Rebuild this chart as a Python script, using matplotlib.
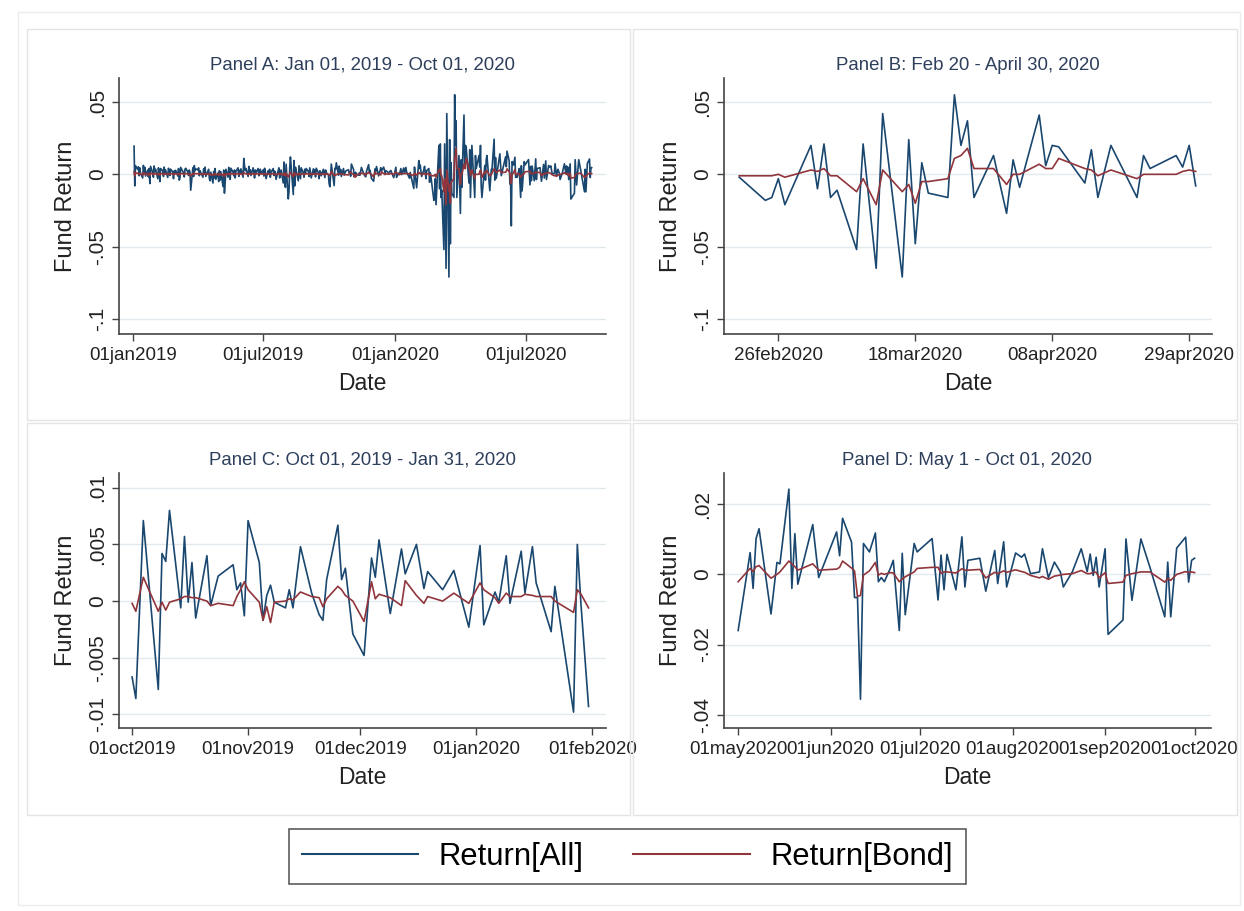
import numpy as np
import pandas as pd
import matplotlib
matplotlib.use("Agg")
import matplotlib.pyplot as plt
import matplotlib.dates as mdates
from matplotlib.patches import Rectangle
from matplotlib.lines import Line2D

plt.rcParams['font.family'] = ['Liberation Sans', 'DejaVu Sans']

W, H = 1244, 911
BLUE = "#1a476f"
RED = "#90353b"
GRID = "#e3eaee"
AXC = "#444444"

# ── data ──────────────────────────────────────────────────────────────────────

# Jan 2 - Sep 30, 2019, one value per business day (month by month)
ret_all_2019 = [
    0.0195, -0.0080, 0.0060, 0.0035, 0.0052, -0.0010, 0.0045, 0.0008, -0.0025, 0.0062, 0.0015,
    0.0048, -0.0012, 0.0030, -0.0018, 0.0040, -0.0064, 0.0055, 0.0012, -0.0020, 0.0058, 0.0020,
    0.0035, -0.0030, 0.0045, 0.0010, -0.0050, 0.0040, 0.0025, -0.0015, 0.0050, 0.0005,
    0.0030, -0.0022, 0.0042, 0.0012, -0.0008, 0.0036, 0.0015, -0.0030, 0.0025, 0.0008,
    0.0028, -0.0012, 0.0040, -0.0040, -0.0025, 0.0048, 0.0020, 0.0010, -0.0018, 0.0035, 0.0042,
    0.0015, -0.0008, 0.0030, 0.0012, -0.0110, 0.0045, -0.0015, 0.0060, 0.0025, 0.0038,
    0.0030, 0.0045, -0.0010, 0.0025, 0.0012, -0.0020, 0.0038, 0.0008, 0.0050, -0.0015, 0.0022,
    0.0035, -0.0030, -0.0045, 0.0015, -0.0060, 0.0020, -0.0025, 0.0040, -0.0035, 0.0010, -0.0050,
    0.0025, -0.0040, 0.0018, -0.0085, 0.0030, -0.0130, -0.0060, 0.0035, -0.0020, 0.0048, 0.0010,
    -0.0035, 0.0042, 0.0015, -0.0010, 0.0030, -0.0025, 0.0020, 0.0045, -0.0015, 0.0028, 0.0005, 0.0038,
    -0.0020, 0.0110, 0.0060, 0.0025, 0.0040, -0.0015, 0.0055, 0.0010, 0.0032, -0.0008,
    0.0045, 0.0018, -0.0025, 0.0030, 0.0012, 0.0040, -0.0010, 0.0022, 0.0035, 0.0005,
    0.0030, -0.0012, 0.0042, 0.0018, -0.0030, 0.0025, 0.0008, 0.0035, -0.0020, 0.0015, 0.0040,
    -0.0008, 0.0022, 0.0010, -0.0035, 0.0028, 0.0045, -0.0025, 0.0012, 0.0030, -0.0060, 0.0085, -0.0050,
    -0.0090, 0.0070, -0.0170, -0.0120, 0.0040, 0.0120, 0.0060, -0.0140, 0.0095, -0.0080, 0.0050,
    0.0025, -0.0045, 0.0060, 0.0015, -0.0030, 0.0045, 0.0010, -0.0020, 0.0035, 0.0008, 0.0040,
    0.0020, -0.0015, 0.0045, 0.0012, -0.0025, 0.0038, 0.0005, 0.0030, -0.0018, 0.0042, 0.0010,
    -0.0030, 0.0025, 0.0015, -0.0010, 0.0035, 0.0008, -0.0022, 0.0030, 0.0012, -0.0005,
]
ret_bond_2019 = [
    0.0018, -0.0012, 0.0010, 0.0006, 0.0009, 0.0001, 0.0007, 0.0002, -0.0004, 0.0010, 0.0004,
    0.0008, -0.0002, 0.0005, -0.0003, 0.0006, -0.0009, 0.0008, 0.0003, -0.0002, 0.0009, 0.0004,
    0.0006, -0.0003, 0.0007, 0.0002, -0.0006, 0.0006, 0.0004, -0.0001, 0.0007, 0.0002,
    0.0005, -0.0002, 0.0006, 0.0003, 0.0000, 0.0005, 0.0003, -0.0003, 0.0004, 0.0002,
    0.0005, 0.0000, 0.0006, -0.0004, -0.0002, 0.0007, 0.0004, 0.0002, -0.0001, 0.0005, 0.0006,
    0.0003, 0.0000, 0.0004, -0.0003, -0.0012, 0.0006, 0.0000, 0.0008, 0.0004, 0.0005,
    0.0004, 0.0006, 0.0000, 0.0004, 0.0002, -0.0002, 0.0005, 0.0002, 0.0007, -0.0001, 0.0003,
    0.0005, -0.0003, -0.0005, 0.0002, -0.0007, 0.0003, -0.0002, 0.0005, -0.0004, 0.0002, -0.0006,
    0.0004, -0.0004, 0.0003, -0.0009, 0.0004, -0.0014, -0.0006, 0.0005, -0.0002, 0.0006, 0.0002,
    -0.0003, 0.0006, 0.0003, 0.0000, 0.0004, -0.0002, 0.0003, 0.0006, -0.0001, 0.0004, 0.0001, 0.0005,
    -0.0002, 0.0012, 0.0007, 0.0004, 0.0005, -0.0001, 0.0007, 0.0002, 0.0004, 0.0000,
    0.0006, 0.0003, -0.0002, 0.0004, 0.0002, 0.0005, 0.0000, 0.0003, 0.0005, 0.0001,
    0.0004, 0.0000, 0.0005, 0.0003, -0.0003, 0.0004, 0.0001, 0.0005, -0.0002, 0.0003, 0.0005,
    0.0000, 0.0003, 0.0002, -0.0004, 0.0004, 0.0006, -0.0002, 0.0002, 0.0004, -0.0007, 0.0010, -0.0005,
    -0.0010, 0.0008, -0.0018, -0.0013, 0.0005, 0.0014, 0.0007, -0.0015, 0.0011, -0.0008, 0.0006,
    0.0003, -0.0005, 0.0007, 0.0002, -0.0003, 0.0005, 0.0001, -0.0002, 0.0004, 0.0001, 0.0005,
    0.0003, -0.0002, 0.0006, 0.0002, -0.0003, 0.0005, 0.0001, 0.0004, -0.0002, 0.0005, 0.0002,
    -0.0004, 0.0003, 0.0002, -0.0001, 0.0004, 0.0001, -0.0003, 0.0004, 0.0002, 0.0000,
]

# Oct 01, 2019 - Jan 31, 2020 (days after Oct 01, 2019)
c_days = [0, 1, 3, 7, 8, 9, 10, 13, 14, 15, 16, 17, 20, 21, 23, 27, 28, 29, 30, 31,
          34, 35, 36, 37, 38, 41, 42, 43, 45, 48, 50, 51, 52, 55, 56, 57, 59, 62, 64, 65,
          66, 69, 72, 73, 76, 78, 79, 83, 86, 90, 93, 94, 97, 98, 100, 101, 104, 105, 107, 108,
          112, 113, 118, 119, 120, 122]
c_all = [-0.0067, -0.0086, 0.0071, -0.0078, 0.0042, 0.0035, 0.0080, -0.0006, 0.0057, -0.0001,
         0.0034, -0.0015, 0.0040, -0.0004, 0.0022, 0.0032, 0.0010, 0.0016, -0.0013, 0.0071,
         0.0034, -0.0017, 0.0005, 0.0014, -0.0001, -0.0006, 0.0010, -0.0006, 0.0048, 0.0007,
         -0.0012, -0.0017, 0.0019, 0.0067, 0.0019, 0.0029, -0.0029, -0.0048, 0.0038, 0.0021,
         0.0054, -0.0011, 0.0046, 0.0024, 0.0050, 0.0011, 0.0026, 0.0010, 0.0027, -0.0023,
         0.0049, -0.0021, 0.0008, -0.0001, 0.0040, -0.0002, 0.0044, 0.0007, 0.0048, 0.0016,
         -0.0027, 0.0013, -0.0098, 0.0050, -0.0004, -0.0093]
c_bond = [-0.0002, -0.0009, 0.0021, -0.0009, -0.0001, -0.0008, -0.0001, 0.0002, 0.0004, 0.0004,
          0.0003, 0.0003, 0.0000, -0.0004, -0.0002, -0.0004, 0.0004, 0.0010, 0.0017, 0.0010,
          -0.0001, -0.0017, -0.0005, -0.0019, -0.0001, 0.0000, 0.0002, 0.0001, 0.0008, 0.0004,
          0.0003, -0.0005, 0.0002, 0.0013, 0.0010, 0.0005, 0.0000, -0.0018, 0.0017, 0.0002,
          0.0006, 0.0003, -0.0004, 0.0018, 0.0005, -0.0002, 0.0004, 0.0000, 0.0007, -0.0002,
          0.0016, 0.0010, 0.0003, -0.0002, 0.0007, 0.0004, 0.0004, 0.0006, 0.0005, 0.0004,
          0.0004, 0.0000, -0.0010, 0.0010, 0.0006, -0.0006]

# Feb 03 - Feb 19, 2020, business days
ret_all_feb20 = [0.0095, 0.0040, 0.0065, 0.0020, -0.0015, 0.0030, 0.0055, 0.0010, -0.0030,
                 0.0025, 0.0040, -0.0055, 0.0012]
ret_bond_feb20 = [0.0012, 0.0006, 0.0008, 0.0003, -0.0002, 0.0004, 0.0007, 0.0002, -0.0003,
                  0.0003, 0.0005, -0.0006, 0.0002]

# Feb 20 - Apr 30, 2020
b_dates = ["2020-02-20", "2020-02-24", "2020-02-25", "2020-02-26", "2020-02-27",
           "2020-03-02", "2020-03-03", "2020-03-04", "2020-03-05", "2020-03-06",
           "2020-03-09", "2020-03-10", "2020-03-12", "2020-03-13", "2020-03-16",
           "2020-03-17", "2020-03-18", "2020-03-19", "2020-03-20", "2020-03-23",
           "2020-03-24", "2020-03-25", "2020-03-26", "2020-03-27", "2020-03-30",
           "2020-04-01", "2020-04-02", "2020-04-03", "2020-04-06", "2020-04-07",
           "2020-04-08", "2020-04-09", "2020-04-13", "2020-04-14", "2020-04-15",
           "2020-04-17", "2020-04-21", "2020-04-22", "2020-04-23", "2020-04-27",
           "2020-04-28", "2020-04-29", "2020-04-30"]
b_all = [-0.002, -0.018, -0.016, -0.003, -0.021, 0.020, -0.010, 0.021, -0.016, -0.011,
         -0.052, 0.021, -0.065, 0.042, -0.071, 0.024, -0.048, 0.008, -0.013, -0.016,
         0.055, 0.020, 0.037, -0.016, 0.013, -0.027, 0.010, -0.009, 0.041, 0.006,
         0.020, 0.019, -0.006, 0.017, -0.016, 0.020, -0.016, 0.013, 0.004, 0.013,
         0.005, 0.020, -0.008]
b_bond = [-0.001, -0.001, -0.001, 0.000, -0.002, 0.003, 0.002, 0.004, -0.001, -0.001,
          -0.012, -0.003, -0.021, 0.003, -0.012, -0.007, -0.020, -0.005, -0.005, -0.003,
          0.011, 0.013, 0.018, 0.004, 0.004, -0.007, 0.000, 0.000, 0.007, 0.004,
          0.004, 0.011, 0.004, 0.003, -0.001, 0.003, -0.003, 0.000, 0.000, 0.000,
          0.002, 0.003, 0.002]

# May 01 - Oct 01, 2020 (days after May 01, 2020)
d_days = [0, 4, 5, 6, 7, 11, 13, 14, 17, 18, 19, 20, 25, 27, 33, 34, 35, 38, 39, 40,
          41, 42, 44, 46, 47, 48, 49, 51, 52, 54, 55, 56, 59, 60, 65, 67, 68, 69, 70, 73,
          75, 76, 77, 81, 83, 86, 87, 89, 90, 93, 95, 96, 98, 101, 102, 104, 106, 108, 109, 112,
          115, 117, 118, 119, 120, 121, 123, 124, 129, 130, 132, 135, 138, 143, 144, 145, 147, 150,
          151, 152, 153]
d_all = [-0.0160, 0.0062, -0.0040, 0.0102, 0.0130, -0.0113, 0.0034, 0.0030, 0.0243, -0.0040,
         0.0116, -0.0028, 0.0142, -0.0009, 0.0121, 0.0053, 0.0160, 0.0092, -0.0066, -0.0066,
         -0.0356, 0.0088, 0.0064, 0.0118, -0.0021, -0.0009, -0.0021, 0.0017, 0.0040, -0.0160,
         0.0060, -0.0115, 0.0088, 0.0064, 0.0102, -0.0073, 0.0055, -0.0044, 0.0057, -0.0044,
         0.0107, -0.0036, 0.0040, 0.0046, -0.0048, 0.0068, -0.0026, 0.0093, -0.0036, 0.0061,
         0.0049, 0.0058, 0.0002, 0.0007, 0.0073, -0.0010, 0.0035, 0.0007, -0.0036, 0.0007,
         0.0073, 0.0008, 0.0058, -0.0003, 0.0049, -0.0036, 0.0073, -0.0171, -0.0130, 0.0101,
         -0.0074, 0.0101, 0.0021, -0.0121, 0.0035, -0.0121, 0.0075, 0.0106, -0.0022, 0.0040,
         0.0046]
d_bond = [-0.0021, 0.0017, 0.0008, 0.0022, 0.0025, -0.0011, 0.0000, 0.0007, 0.0038, 0.0030,
          0.0022, 0.0012, 0.0030, 0.0012, 0.0015, 0.0020, 0.0038, 0.0018, 0.0010, -0.0063,
          -0.0060, -0.0002, 0.0010, 0.0034, -0.0002, 0.0003, 0.0000, 0.0005, 0.0004, -0.0021,
          -0.0013, -0.0007, 0.0007, 0.0017, 0.0020, 0.0020, 0.0003, 0.0007, 0.0007, 0.0004,
          0.0016, 0.0012, 0.0012, 0.0014, -0.0010, 0.0006, 0.0002, 0.0010, 0.0006, 0.0013,
          0.0008, 0.0006, -0.0003, -0.0010, -0.0006, -0.0014, -0.0005, -0.0002, 0.0000, 0.0002,
          0.0011, 0.0002, 0.0002, 0.0006, 0.0006, -0.0010, 0.0005, -0.0026, -0.0022, -0.0003,
          0.0002, 0.0007, 0.0007, -0.0022, -0.0012, -0.0017, 0.0000, 0.0008, 0.0005, 0.0007,
          0.0005]

PANELS = [
    # title, start, end, xticks, yticks, xlim, ylim, plot box in px (x0, y0, x1, y1)
    ("Panel A: Jan 01, 2019 - Oct 01, 2020", "2019-01-01", "2020-10-01",
     ["2019-01-01", "2019-07-01", "2020-01-01", "2020-07-01"], [-0.1, -0.05, 0, 0.05],
     ("2018-12-12", "2020-10-21"), (-0.1104, 0.0666), (119, 78, 606, 334)),
    ("Panel B: Feb 20 - April 30, 2020", "2020-02-20", "2020-04-30",
     ["2020-02-26", "2020-03-18", "2020-04-08", "2020-04-29"], [-0.1, -0.05, 0, 0.05],
     ("2020-02-17 16:00", "2020-05-02 12:00"), (-0.1104, 0.0666), (724, 78, 1212, 334)),
    ("Panel C: Oct 01, 2019 - Jan 31, 2020", "2019-10-01", "2020-01-31",
     ["2019-10-01", "2019-11-01", "2019-12-01", "2020-01-01", "2020-02-01"],
     [-0.01, -0.005, 0, 0.005, 0.01],
     ("2019-09-27 12:00", "2020-02-04 16:00"), (-0.0112, 0.0113), (119, 473, 606, 728)),
    ("Panel D: May 1 - Oct 01, 2020", "2020-05-01", "2020-10-01",
     ["2020-05-01", "2020-06-01", "2020-07-01", "2020-08-01", "2020-09-01", "2020-10-01"],
     [-0.04, -0.02, 0, 0.02],
     ("2020-04-26 06:00", "2020-10-06 12:00"), (-0.0438, 0.0289), (724, 473, 1211, 728)),
]

PANEL_BOXES = [(27, 29, 630, 420), (633, 29, 1237, 420),
               (27, 423, 630, 815), (633, 423, 1237, 815)]


def px_rect(x0, y0, x1, y1):
    return [x0 / W, 1 - y1 / H, (x1 - x0) / W, (y1 - y0) / H]


def stata_num(v, pos=None):
    if abs(v) < 1e-12:
        return "0"
    s = f"{v:g}"
    if s.startswith("0."):
        s = s[1:]
    elif s.startswith("-0."):
        s = "-" + s[2:]
    return s


def to_num(t):
    return mdates.date2num(pd.Timestamp(t).to_pydatetime())


def build_series():
    parts = [
        pd.DataFrame({"date": pd.bdate_range("2019-01-02", periods=len(ret_all_2019)),
                      "all": ret_all_2019, "bond": ret_bond_2019}),
        pd.DataFrame({"date": pd.Timestamp("2019-10-01") + pd.to_timedelta(c_days, unit="D"),
                      "all": c_all, "bond": c_bond}),
        pd.DataFrame({"date": pd.bdate_range("2020-02-03", periods=len(ret_all_feb20)),
                      "all": ret_all_feb20, "bond": ret_bond_feb20}),
        pd.DataFrame({"date": pd.to_datetime(b_dates), "all": b_all, "bond": b_bond}),
        pd.DataFrame({"date": pd.Timestamp("2020-05-01") + pd.to_timedelta(d_days, unit="D"),
                      "all": d_all, "bond": d_bond}),
    ]
    return pd.concat(parts).sort_values("date").reset_index(drop=True)


def main():
    df = build_series()
    fig = plt.figure(figsize=(W / 100, H / 100), dpi=100)
    fig.patch.set_facecolor("white")

    # faint frames round the whole graph and each panel
    fig.add_artist(Rectangle((18 / W, 1 - 905 / H), 1222 / W, 893 / H, transform=fig.transFigure,
                             fill=False, edgecolor="#ececec", lw=1.0))
    for x0, y0, x1, y1 in PANEL_BOXES:
        r = px_rect(x0, y0, x1, y1)
        fig.add_artist(Rectangle((r[0], r[1]), r[2], r[3], transform=fig.transFigure,
                                 fill=False, edgecolor="#e4e4e4", lw=1.0))

    for title, start, end, xticks, yticks, xlim, ylim, box in PANELS:
        ax = fig.add_axes(px_rect(*box))
        w_px, h_px = box[2] - box[0], box[3] - box[1]
        sub = df[(df["date"] >= start) & (df["date"] <= end)]
        x = mdates.date2num(sub["date"].dt.to_pydatetime())
        ax.plot(x, sub["all"].values, color=BLUE, lw=1.2, zorder=3)
        ax.plot(x, sub["bond"].values, color=RED, lw=1.2, zorder=4)

        ax.set_xlim(to_num(xlim[0]), to_num(xlim[1]))
        ax.set_ylim(*ylim)
        ax.set_xticks([to_num(t) for t in xticks])
        ax.xaxis.set_major_formatter(plt.FuncFormatter(
            lambda v, p: mdates.num2date(v).strftime("%d%b%Y").lower()))
        ax.set_yticks(yticks)
        ax.yaxis.set_major_formatter(plt.FuncFormatter(stata_num))

        for side in ("top", "right"):
            ax.spines[side].set_visible(False)
        for side in ("left", "bottom"):
            ax.spines[side].set_color(AXC)
            ax.spines[side].set_linewidth(1.2)
        ax.tick_params(axis="both", colors=AXC, labelcolor="#222222", length=5, width=1.0)
        ax.tick_params(axis="x", labelsize=13.5, pad=4.5)
        ax.tick_params(axis="y", labelsize=15, pad=3.3)
        for lab in ax.get_yticklabels():
            lab.set_rotation(90)
            lab.set_va("center")
        ax.grid(axis="y", color=GRID, lw=1.0)
        ax.set_axisbelow(True)

        ax.set_title(title, fontsize=13.4, color="#2e3f5c", pad=5.8)
        ax.set_xlabel("Date", fontsize=16.5, color="#222222")
        ax.xaxis.set_label_coords(0.5, -38 / h_px)
        ax.set_ylabel("Fund Return", fontsize=17, color="#222222")
        ax.yaxis.set_label_coords(-42 / w_px, 0.5)

    handles = [Line2D([], [], color=BLUE, lw=1.5), Line2D([], [], color=RED, lw=1.5)]
    leg = fig.legend(handles, ["Return[All]", "Return[Bond]"], loc="center",
                     bbox_to_anchor=(627.5 / W, 1 - 856.5 / H), ncol=2, fontsize=22.3,
                     frameon=True, fancybox=False, edgecolor="#333333",
                     handlelength=3.75, handletextpad=0.68, columnspacing=1.6, borderpad=0.4)
    leg.get_frame().set_linewidth(1.2)

    fig.savefig("out.png", dpi=100)
    plt.close(fig)


if __name__ == "__main__":
    main()
